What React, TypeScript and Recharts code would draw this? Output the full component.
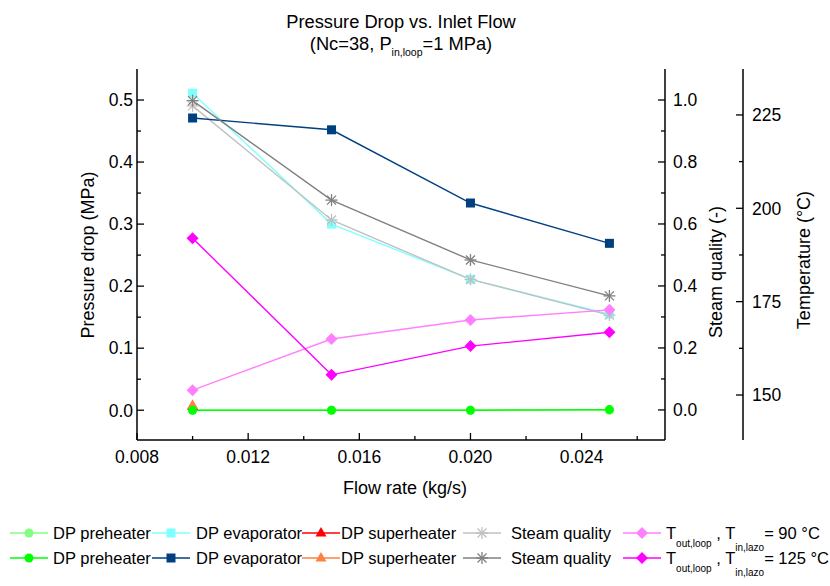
import { ComposedChart, Line, XAxis, YAxis } from "recharts"

// values
const flowRate = [0.01, 0.015, 0.02, 0.025]
const dpPreheater90 = [0, 0, 0, 0]
const dpPreheater125 = [0, 0, 0, 0.001]
const dpEvaporator90 = [0.511, 0.3, 0.211, 0.155]
const dpEvaporator125 = [0.471, 0.452, 0.334, 0.269]
const dpSuperheater90 = [0.006, null, null, null]
const dpSuperheater125 = [0.008, null, null, null]
const steamQuality90 = [0.981, 0.613, 0.421, 0.306]
const steamQuality125 = [0.998, 0.677, 0.484, 0.368]
const tOutLoop90 = [151.3, 165.0, 170.1, 172.8]
const tOutLoop125 = [192.0, 155.4, 163.1, 166.8]

const xTicks = [0.008, 0.01, 0.012, 0.014, 0.016, 0.018, 0.02, 0.022, 0.024, 0.026]
const dpTicks = [0, 0.05, 0.1, 0.15, 0.2, 0.25, 0.3, 0.35, 0.4, 0.45, 0.5]
const qualityTicks = [0, 0.1, 0.2, 0.3, 0.4, 0.5, 0.6, 0.7, 0.8, 0.9, 1.0]
const tempTicks = [150, 162.5, 175, 187.5, 200, 212.5, 225]

const FONT = "'Liberation Sans', Arial, Helvetica, sans-serif"

type Shape = "circle" | "square" | "triangle" | "star" | "diamond"

const series = [
  { key: "dpPre90", name: "DP preheater", axis: "dp", color: "#80FF80", shape: "circle", values: dpPreheater90, col: 0, row: 0 },
  { key: "dpEvap90", name: "DP evaporator", axis: "dp", color: "#80FFFF", shape: "square", values: dpEvaporator90, col: 1, row: 0 },
  { key: "dpSup90", name: "DP superheater", axis: "dp", color: "#FF0000", shape: "triangle", values: dpSuperheater90, col: 2, row: 0 },
  { key: "q90", name: "Steam quality", axis: "q", color: "#C0C0C0", shape: "star", values: steamQuality90, col: 3, row: 0 },
  { key: "t90", name: "90", axis: "t", color: "#FF80FF", shape: "diamond", values: tOutLoop90, col: 4, row: 0 },
  { key: "dpSup125", name: "DP superheater", axis: "dp", color: "#FF8040", shape: "triangle", values: dpSuperheater125, col: 2, row: 1 },
  { key: "dpPre125", name: "DP preheater", axis: "dp", color: "#00FF00", shape: "circle", values: dpPreheater125, col: 0, row: 1 },
  { key: "dpEvap125", name: "DP evaporator", axis: "dp", color: "#004080", shape: "square", values: dpEvaporator125, col: 1, row: 1 },
  { key: "q125", name: "Steam quality", axis: "q", color: "#808080", shape: "star", values: steamQuality125, col: 3, row: 1 },
  { key: "t125", name: "125", axis: "t", color: "#FF00FF", shape: "diamond", values: tOutLoop125, col: 4, row: 1 },
]

const legendCols = [
  { line: 10, text: 53 },
  { line: 152, text: 196 },
  { line: 302, text: 341 },
  { line: 463, text: 511 },
  { line: 623, text: 666 },
]
const legendRows = [533, 558]

const data = flowRate.map((x, i) => {
  const row: Record<string, number | null> = { x }
  series.forEach((s) => (row[s.key] = s.values[i]))
  return row
})

function Marker({ cx, cy, shape, color }: { cx: number; cy: number; shape: Shape; color: string }) {
  switch (shape) {
    case "circle":
      return <circle cx={cx} cy={cy} r={4.5} fill={color} />
    case "square":
      return <rect x={cx - 4.5} y={cy - 4.5} width={9} height={9} fill={color} />
    case "triangle":
      return <polygon points={`${cx},${cy - 6} ${cx + 5.5},${cy + 3.5} ${cx - 5.5},${cy + 3.5}`} fill={color} />
    case "diamond":
      return <polygon points={`${cx},${cy - 6} ${cx + 6},${cy} ${cx},${cy + 6} ${cx - 6},${cy}`} fill={color} />
    case "star":
      return (
        <g stroke={color} strokeWidth={1.3}>
          <line x1={cx} y1={cy - 6} x2={cx} y2={cy + 6} />
          <line x1={cx - 6} y1={cy} x2={cx + 6} y2={cy} />
          <line x1={cx - 4.5} y1={cy - 4.5} x2={cx + 4.5} y2={cy + 4.5} />
          <line x1={cx - 4.5} y1={cy + 4.5} x2={cx + 4.5} y2={cy - 4.5} />
        </g>
      )
  }
  return null
}

const tickText = { fontFamily: FONT, fontSize: 17.5, fill: "#000" }

const LeftTick = (p: any) => {
  const v = p.payload.value
  const major = Math.round(v * 100) % 10 === 0
  const ax = p.x + 4
  return (
    <g>
      <line x1={ax} x2={ax + (major ? 7 : 4)} y1={p.y} y2={p.y} stroke="#000" strokeWidth={1.3} />
      {major && (
        <text x={p.x} y={p.y} dy="0.36em" textAnchor="end" {...tickText}>
          {v.toFixed(1)}
        </text>
      )}
    </g>
  )
}

const QualityTick = (p: any) => {
  const v = p.payload.value
  const major = Math.round(v * 10) % 2 === 0
  const ax = p.x - 8
  return (
    <g>
      <line x1={ax} x2={ax - (major ? 7 : 4)} y1={p.y} y2={p.y} stroke="#000" strokeWidth={1.3} />
      {major && (
        <text x={p.x} y={p.y} dy="0.36em" textAnchor="start" {...tickText}>
          {v.toFixed(1)}
        </text>
      )}
    </g>
  )
}

const TempTick = (p: any) => {
  const v = p.payload.value
  const major = v % 25 === 0
  const ax = p.x - 9
  return (
    <g>
      <line x1={ax} x2={ax - (major ? 7 : 4)} y1={p.y} y2={p.y} stroke="#000" strokeWidth={1.3} />
      {major && (
        <text x={p.x} y={p.y} dy="0.36em" textAnchor="start" {...tickText}>
          {v}
        </text>
      )}
    </g>
  )
}

const BottomTick = (p: any) => {
  const v = p.payload.value
  const major = Math.round(v * 1000) % 4 === 0
  return (
    <g>
      <line x1={p.x} x2={p.x} y1={p.y} y2={p.y - (major ? 7 : 4)} stroke="#000" strokeWidth={1.3} />
      {major && (
        <text x={p.x} y={p.y + 23} textAnchor="middle" {...tickText}>
          {v.toFixed(3)}
        </text>
      )}
    </g>
  )
}

function LegendLabel({ s, x, y }: { s: (typeof series)[number]; x: number; y: number }) {
  if (s.axis !== "t") {
    return (
      <text x={x} y={y} fontSize={16.5}>
        {s.name}
      </text>
    )
  }
  return (
    <text x={x} y={y} fontSize={16.5}>
      T
      <tspan dy={8} fontSize={10}>out,loop</tspan>
      <tspan dy={-8}> , T</tspan>
      <tspan dy={12} fontSize={10}>in,lazo</tspan>
      <tspan dy={-12}>{`= ${s.name} °C`}</tspan>
    </text>
  )
}

const axisStroke = { stroke: "#000", strokeWidth: 1.5 }

export default function App() {
  return (
    <div style={{ position: "absolute", left: 0, top: 0, width: 830, height: 586, background: "#fff", fontFamily: FONT }}>
      <ComposedChart width={830} height={586} data={data} margin={{ top: 69, right: 0, bottom: 116, left: 57 }}>
        <XAxis
          dataKey="x"
          type="number"
          domain={[0.008, 0.027]}
          ticks={xTicks}
          interval={0}
          allowDataOverflow
          height={30}
          tickSize={0}
          tickMargin={0}
          tickLine={false}
          axisLine={axisStroke}
          tick={BottomTick}
        />
        <XAxis
          xAxisId="top"
          dataKey="x"
          type="number"
          orientation="top"
          domain={[0.008, 0.027]}
          height={0}
          tick={false}
          tickLine={false}
          axisLine={axisStroke}
        />
        <YAxis
          yAxisId="dp"
          type="number"
          domain={[-0.048, 0.55]}
          ticks={dpTicks}
          interval={0}
          allowDataOverflow
          width={80}
          tickSize={0}
          tickMargin={4}
          tickLine={false}
          axisLine={axisStroke}
          tick={LeftTick}
        />
        <YAxis
          yAxisId="q"
          orientation="right"
          type="number"
          domain={[-0.097, 1.1]}
          ticks={qualityTicks}
          interval={0}
          allowDataOverflow
          width={78}
          tickSize={0}
          tickMargin={8}
          tickLine={false}
          axisLine={axisStroke}
          tick={QualityTick}
        />
        <YAxis
          yAxisId="t"
          orientation="right"
          type="number"
          domain={[137.95, 237.3]}
          ticks={tempTicks}
          interval={0}
          allowDataOverflow
          width={87}
          tickSize={0}
          tickMargin={9}
          tickLine={false}
          axisLine={axisStroke}
          tick={TempTick}
        />
        {series.map((s) => (
          <Line
            key={s.key}
            dataKey={s.key}
            yAxisId={s.axis}
            stroke={s.color}
            strokeWidth={1.4}
            isAnimationActive={false}
            legendType="none"
            dot={(p: any) =>
              p.cy == null || p.value == null ? (
                <g key={`${s.key}-${p.index}`} />
              ) : (
                <g key={`${s.key}-${p.index}`}>
                  <Marker cx={p.cx} cy={p.cy} shape={s.shape as Shape} color={s.color} />
                </g>
              )
            }
            activeDot={false}
          />
        ))}
      </ComposedChart>
      <svg
        width={830}
        height={586}
        style={{ position: "absolute", left: 0, top: 0, pointerEvents: "none" }}
        fontFamily={FONT}
        fill="#000"
      >
        <text x={401} y={28} textAnchor="middle" fontSize={18.3}>
          Pressure Drop vs. Inlet Flow
        </text>
        <text x={401} y={50} textAnchor="middle" fontSize={18.3}>
          (Nc=38, P<tspan dy={6} fontSize={10.5}>in,loop</tspan>
          <tspan dy={-6}>=1 MPa)</tspan>
        </text>
        <text x={405} y={494} textAnchor="middle" fontSize={18}>
          Flow rate (kg/s)
        </text>
        <text x={88} y={255} textAnchor="middle" dominantBaseline="central" fontSize={18} transform="rotate(-90 88 255)">
          Pressure drop (MPa)
        </text>
        <text x={716} y={272} textAnchor="middle" dominantBaseline="central" fontSize={18} transform="rotate(-90 716 272)">
          Steam quality (-)
        </text>
        <text x={804} y={260} textAnchor="middle" dominantBaseline="central" fontSize={18} transform="rotate(-90 804 260)">
          Temperature (°C)
        </text>
        {series.map((s) => {
          const c = legendCols[s.col]
          const y = legendRows[s.row]
          return (
            <g key={s.key}>
              <line x1={c.line} x2={c.line + 38} y1={y} y2={y} stroke={s.color} strokeWidth={1.4} />
              <Marker cx={c.line + 19} cy={y} shape={s.shape as Shape} color={s.color} />
              <LegendLabel s={s} x={c.text} y={y + 6} />
            </g>
          )
        })}
      </svg>
    </div>
  )
}
